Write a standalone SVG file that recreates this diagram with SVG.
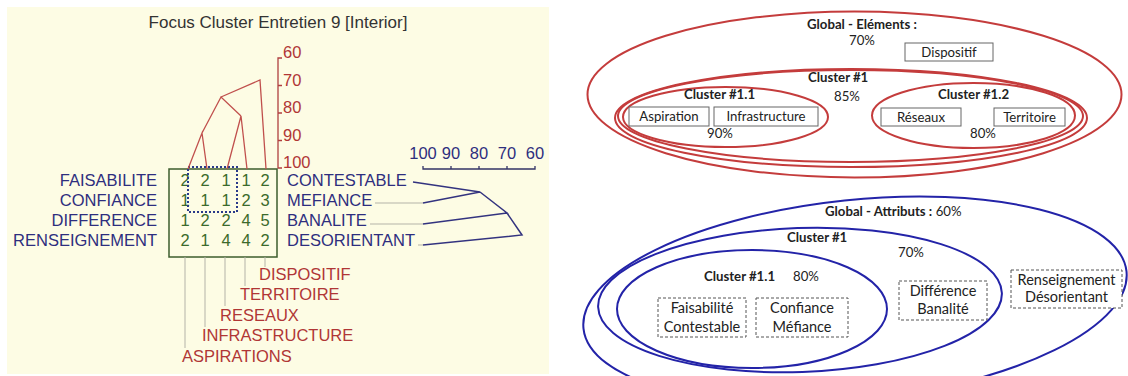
<svg xmlns="http://www.w3.org/2000/svg" width="1128" height="376" viewBox="0 0 1128 376">
<defs>
<style>
.lbl{font-family:"Liberation Sans",Arial,sans-serif;font-size:16.5px}
.navy{fill:#2e2e7e}
.red{fill:#b03636}
.dig{fill:#3b6a2b;text-anchor:middle}
.ax{font-family:"Liberation Sans",Arial,sans-serif;font-size:16.5px}
.redline{stroke:#c0504d;stroke-width:1.3;fill:none}
.navyline{stroke:#33337f;stroke-width:1.5;fill:none}
.grayline{stroke:#b4b3a8;stroke-width:1;fill:none}
.t{font-family:Lato,"Liberation Sans",sans-serif;font-size:13.2px;fill:#222}
.bt{font-size:14.5px}
.b{font-weight:bold}
.mid{text-anchor:middle}
.box{fill:#fff;stroke:#666;stroke-width:1}
.dbox{fill:#fff;stroke:#555;stroke-width:1;stroke-dasharray:3 2}
.rell{fill:none;stroke:#c43c3c;stroke-width:2}
.bell{fill:none;stroke:#2323a8;stroke-width:2}
</style>
</defs>
<rect width="1128" height="376" fill="#ffffff"/>
<g id="dendrogram-panel">
<rect x="7" y="7" width="542" height="367" fill="#fdfce4"/>
<text x="278" y="28" font-family="Liberation Sans, Arial, sans-serif" font-size="17" fill="#333" text-anchor="middle">Focus Cluster Entretien 9 [Interior]</text>
<g id="v-axis">
<path d="M282 58H278V168H282M278 85.5H282M278 113H282M278 140.5H282" stroke="#b04040" stroke-width="1.3" fill="none"/>
<text class="ax red" x="283" y="58">60</text>
<text class="ax red" x="283" y="85.5">70</text>
<text class="ax red" x="283" y="113">80</text>
<text class="ax red" x="283" y="140.5">90</text>
<text class="ax red" x="283" y="168">100</text>
</g>
<g id="h-axis">
<path d="M423 166V169H535V166M451 169V166M479 169V166M507 169V166" stroke="#333366" stroke-width="1.3" fill="none"/>
<text class="ax navy mid" x="423" y="159">100</text>
<text class="ax navy mid" x="451" y="159">90</text>
<text class="ax navy mid" x="479" y="159">80</text>
<text class="ax navy mid" x="507" y="159">70</text>
<text class="ax navy mid" x="535" y="159">60</text>
</g>
<g id="matrix">
<rect x="169" y="169" width="108" height="88" fill="none" stroke="#3c5c2c" stroke-width="1.5"/>
<g class="lbl dig">
<text x="185" y="186">2</text><text x="205" y="186">2</text><text x="226" y="186">1</text><text x="246" y="186">1</text><text x="265" y="186">2</text>
<text x="185" y="206">1</text><text x="205" y="206">1</text><text x="226" y="206">1</text><text x="246" y="206">2</text><text x="265" y="206">3</text>
<text x="185" y="226">1</text><text x="205" y="226">2</text><text x="226" y="226">2</text><text x="246" y="226">4</text><text x="265" y="226">5</text>
<text x="185" y="246">2</text><text x="205" y="246">1</text><text x="226" y="246">4</text><text x="246" y="246">4</text><text x="265" y="246">2</text>
</g>
<rect x="188" y="167" width="49" height="45" fill="none" stroke="#2a3a8a" stroke-width="2" stroke-dasharray="2 2"/>
</g>
<g id="row-labels" class="lbl navy" text-anchor="end">
<text x="157" y="186">FAISABILITE</text>
<text x="157" y="206">CONFIANCE</text>
<text x="157" y="226">DIFFERENCE</text>
<text x="157" y="246">RENSEIGNEMENT</text>
</g>
<g id="attr-labels" class="lbl navy">
<text x="287" y="186">CONTESTABLE</text>
<text x="287" y="206">MEFIANCE</text>
<text x="287" y="226">BANALITE</text>
<text x="287" y="246">DESORIENTANT</text>
</g>
<g id="elem-labels" class="lbl red">
<text x="259" y="280">DISPOSITIF</text>
<text x="240" y="300">TERRITOIRE</text>
<text x="220" y="321">RESEAUX</text>
<text x="202" y="341">INFRASTRUCTURE</text>
<text x="182" y="362">ASPIRATIONS</text>
</g>
<g id="connectors-left">
<path class="grayline" d="M185 257V348M205 257V327M225 257V306M245 257V286M265 257V267"/>
<path class="grayline" d="M375 203H423M370 224H423M418 245H423"/>
<path class="redline" d="M188 169L202 133L207 169M227 169L241 116L247 169M202 133L221 97L241 116M221 97L260 80L266 169"/>
<path class="navyline" d="M413 182L480 192L423 203M480 192L507 213L423 224M507 213L522 235L423 245"/>
</g>
</g>
<g id="elements-diagram">
<g id="global-elements">
<ellipse class="rell" cx="854.5" cy="94.5" rx="267" ry="83"/>
<text class="t b" x="807" y="29">Global - Eléments :</text>
<text class="t" x="849" y="45">70%</text>
</g>
<g id="dispositif">
<rect class="box" x="905" y="43" width="88" height="18"/>
<text class="t mid" x="949" y="57">Dispositif</text>
</g>
<g id="cluster1-elements">
<ellipse class="rell" cx="851" cy="118" rx="236" ry="49"/>
<ellipse class="rell" cx="850.5" cy="116" rx="232.5" ry="46" stroke-width="1.6"/>
<text class="t b" x="808" y="82">Cluster #1</text>
<text class="t" x="834" y="101">85%</text>
</g>
<g id="cluster11-elements">
<ellipse class="rell" cx="725.5" cy="117" rx="102.5" ry="30"/>
<text class="t b" x="684" y="99">Cluster #1.1</text>
<text class="t" x="707" y="138">90%</text>
</g>
<g id="aspiration">
<rect class="box" x="629" y="107" width="80" height="19"/>
<text class="t mid" x="669" y="121">Aspiration</text>
</g>
<g id="infrastructure">
<rect class="box" x="714" y="107" width="104" height="19"/>
<text class="t mid" x="766" y="121">Infrastructure</text>
</g>
<g id="cluster12-elements">
<ellipse class="rell" cx="973.5" cy="115.5" rx="101.5" ry="32.5"/>
<text class="t b" x="938" y="99">Cluster #1.2</text>
<text class="t" x="970" y="138">80%</text>
</g>
<g id="reseaux">
<rect class="box" x="881" y="108" width="80" height="18"/>
<text class="t mid" x="921" y="121.5">Réseaux</text>
</g>
<g id="territoire">
<rect class="box" x="994" y="108" width="71" height="18"/>
<text class="t mid" x="1029.5" y="121.5">Territoire</text>
</g>
</g>
<g id="attributes-diagram">
<g id="global-attributs">
<ellipse class="bell" cx="855" cy="300" rx="273" ry="100" transform="rotate(-6 855 300)"/>
<text class="t" x="825" y="216"><tspan class="b">Global - Attributs :</tspan> 60%</text>
</g>
<g id="cluster1-attributs">
<ellipse class="bell" cx="800" cy="300" rx="202" ry="72" transform="rotate(-2 800 300)"/>
<text class="t b" x="787" y="242">Cluster #1</text>
<text class="t" x="898" y="257">70%</text>
</g>
<g id="cluster11-attributs">
<ellipse class="bell" cx="752" cy="309" rx="135" ry="59"/>
<text class="t" x="704" y="281"><tspan class="b">Cluster #1.1</tspan><tspan x="793">80%</tspan></text>
</g>
<g id="faisabilite-contestable">
<rect class="dbox" x="658" y="298" width="88" height="39"/>
<text class="t bt mid" x="702" y="313">Faisabilité</text>
<text class="t bt mid" x="702" y="332">Contestable</text>
</g>
<g id="confiance-mefiance">
<rect class="dbox" x="756" y="298" width="92" height="39"/>
<text class="t bt mid" x="802" y="313">Confiance</text>
<text class="t bt mid" x="802" y="332">Méfiance</text>
</g>
<g id="difference-banalite">
<rect class="dbox" x="899" y="281" width="88" height="39"/>
<text class="t bt mid" x="943" y="296">Différence</text>
<text class="t bt mid" x="943" y="314">Banalité</text>
</g>
<g id="renseignement-desorientant">
<rect class="dbox" x="1011" y="270" width="111" height="38"/>
<text class="t bt mid" x="1066.5" y="285">Renseignement</text>
<text class="t bt mid" x="1066.5" y="302">Désorientant</text>
</g>
</g>
</svg>
